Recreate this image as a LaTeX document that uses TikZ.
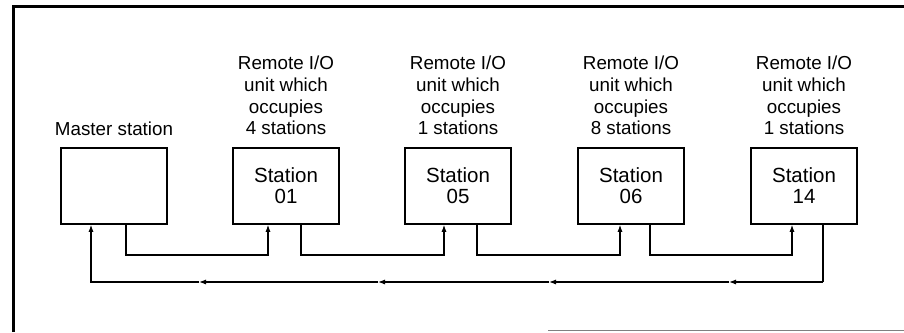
\documentclass[tikz,border=0pt]{standalone}
\usepackage{fontspec}
\setmainfont{Liberation Sans}
\usetikzlibrary{arrows.meta}
\begin{document}
\begin{tikzpicture}[x=1pt,y=-1pt,
  stbox/.style={draw, line width=1.6pt, minimum width=106pt, minimum height=76pt, inner sep=0pt,
    font=\fontsize{20.5}{21}\selectfont, align=center},
  toplabel/.style={font=\fontsize{18.8}{21.7}\selectfont, align=center, inner sep=0pt, anchor=north},
  wire/.style={line width=1.1pt},
  tip/.style={-{Latex[length=7pt,width=5pt]}}
]
\useasboundingbox (0,0) rectangle (904,332);
% frame
\draw[line width=3pt] (13,332) -- (13,6) -- (904,6);
\draw[gray, line width=1.5pt] (548,330.5) -- (904,330.5);
% stations
\node[stbox] (m)  at (114,186) {};
\node[stbox] (s1) at (286,186) {Station\\01};
\node[stbox] (s5) at (458,186) {Station\\05};
\node[stbox] (s6) at (631,186) {Station\\06};
\node[stbox] (s14) at (804,186) {Station\\14};
% labels
\node[anchor=base, inner sep=0pt, font=\fontsize{18.8}{21.7}\selectfont] (mt) at (114,135) {Master station};
\node[toplabel] (l1) at (286,56) {Remote I/O\\unit which\\occupies\\4 stations};
\node[toplabel] (l5) at (458,56) {Remote I/O\\unit which\\occupies\\1 stations};
\node[toplabel] (l6) at (631,56) {Remote I/O\\unit which\\occupies\\8 stations};
\node[toplabel] (l14) at (804,56) {Remote I/O\\unit which\\occupies\\1 stations};
% forward links
\coordinate (a0) at (126,255); \coordinate (a1) at (268,255);
\coordinate (b0) at (301,255); \coordinate (b1) at (444,255);
\coordinate (c0) at (477,255); \coordinate (c1) at (620,255);
\coordinate (d0) at (650,255); \coordinate (d1) at (792,255);
\draw[wire,tip] (m.south -| a0) -- (a0) -- (a1) -- (s1.south -| a1);
\draw[wire,tip] (s1.south -| b0) -- (b0) -- (b1) -- (s5.south -| b1);
\draw[wire,tip] (s5.south -| c0) -- (c0) -- (c1) -- (s6.south -| c1);
\draw[wire,tip] (s6.south -| d0) -- (d0) -- (d1) -- (s14.south -| d1);
% return bus
\coordinate (r0) at (823,282);
\coordinate (r1) at (729,282);
\coordinate (r2) at (549,282);
\coordinate (r3) at (378,282);
\coordinate (r4) at (199,282);
\coordinate (r5) at (91,282);
\draw[wire] (s14.south -| r0) -- (r0);
\draw[wire,tip] (r0) -- (r1);
\draw[wire,tip] (r1) -- (r2);
\draw[wire,tip] (r2) -- (r3);
\draw[wire,tip] (r3) -- (r4);
\draw[wire,tip] (r4) -- (r5) -- (m.south -| r5);
\end{tikzpicture}
\end{document}
